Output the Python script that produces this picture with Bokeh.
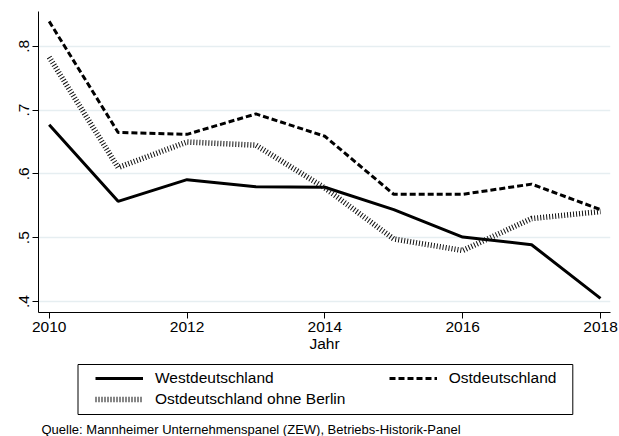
from bokeh.plotting import figure
from bokeh.layouts import column
from bokeh.models import Range1d, FixedTicker, Legend, LegendItem, Label, BoxAnnotation
from bokeh.embed import file_html
from bokeh.resources import INLINE

# ---- data ----
years = [2010, 2011, 2012, 2013, 2014, 2015, 2016, 2017, 2018]
west = [0.677, 0.557, 0.591, 0.580, 0.579, 0.544, 0.501, 0.489, 0.405]
ost = [0.839, 0.665, 0.662, 0.694, 0.659, 0.568, 0.568, 0.584, 0.544]
ohne_berlin = [0.783, 0.610, 0.650, 0.645, 0.578, 0.498, 0.480, 0.530, 0.541]

x_ticks = [2010, 2012, 2014, 2016, 2018]
y_ticks = [0.4, 0.5, 0.6, 0.7, 0.8]
y_tick_labels = [".4", ".5", ".6", ".7", ".8"]

series_labels = ["Westdeutschland", "Ostdeutschland", "Ostdeutschland ohne Berlin"]
x_title = "Jahr"
source_note = "Quelle: Mannheimer Unternehmenspanel (ZEW), Betriebs-Historik-Panel"

FONT = "Liberation Sans"
FS = "15.5px"

W = 619
H1 = 360
H2 = 76

styles = [
    dict(line_color="black", line_width=3),
    dict(line_color="black", line_width=3, line_dash="6 3"),
    dict(line_color="#111111", line_width=5.5, line_dash="1 2"),
]

# ---------------- main chart ----------------
p = figure(width=W, height=H1,
           x_range=Range1d(2009.845, 2018.145),
           y_range=Range1d(0.3828, 0.8545),
           output_backend="svg", toolbar_location=None,
           min_border_left=38, min_border_right=9,
           min_border_top=11, min_border_bottom=H1 - 312)
p.outline_line_color = None
p.background_fill_color = "white"
p.border_fill_color = "white"

p.xgrid.visible = False
p.ygrid.grid_line_color = "#e6eef1"
p.ygrid.grid_line_width = 1.5
p.ygrid.ticker = FixedTicker(ticks=y_ticks)

xa = p.xaxis[0]
xa.ticker = FixedTicker(ticks=x_ticks, minor_ticks=[])
xa.major_tick_out = 6
xa.major_tick_in = 0
xa.minor_tick_out = 0
xa.minor_tick_in = 0
xa.axis_line_color = "black"
xa.major_tick_line_color = "black"
xa.major_label_text_font = FONT
xa.major_label_text_font_size = FS
xa.major_label_text_color = "black"
xa.major_label_standoff = 3
xa.axis_label = x_title
xa.axis_label_text_font = FONT
xa.axis_label_text_font_size = FS
xa.axis_label_text_font_style = "normal"
xa.axis_label_text_color = "black"
xa.axis_label_standoff = 0

ya = p.yaxis[0]
ya.ticker = FixedTicker(ticks=y_ticks, minor_ticks=[])
ya.major_label_overrides = {t: l for t, l in zip(y_ticks, y_tick_labels)}
ya.major_tick_out = 6
ya.major_tick_in = 0
ya.minor_tick_out = 0
ya.minor_tick_in = 0
ya.axis_line_color = "black"
ya.major_tick_line_color = "black"
ya.major_label_text_font = FONT
ya.major_label_text_font_size = FS
ya.major_label_text_color = "black"
ya.major_label_orientation = "vertical"
ya.major_label_standoff = 3

for ys, st in zip([west, ost, ohne_berlin], styles):
    p.line(years, ys, **st)

# ---------------- legend + note panel ----------------
# (its frame is aligned by the column layout with the main frame: x 38..610)
p2 = figure(width=W, height=H2,
            x_range=Range1d(2009.845, 2018.145), y_range=Range1d(10, 11),
            output_backend="svg", toolbar_location=None,
            x_axis_location=None, y_axis_location=None,
            min_border_left=0, min_border_right=0,
            min_border_top=0, min_border_bottom=0)
p2.outline_line_color = None
p2.grid.visible = False
p2.background_fill_color = "white"
p2.border_fill_color = "white"

# same series, outside this panel's visible range: used only as legend keys
leg_r = [p2.line(years, ys, **st) for ys, st in zip([west, ost, ohne_berlin], styles)]

X0 = 38  # frame offset


def make_legend(label, rend, loc):
    return Legend(items=[LegendItem(label=label, renderers=[rend])],
                  location=loc, orientation="vertical",
                  border_line_color=None, background_fill_alpha=0,
                  padding=0, margin=0, spacing=0,
                  glyph_width=48, glyph_height=16, label_height=16,
                  label_standoff=12, label_text_font=FONT,
                  label_text_font_size=FS, label_text_color="black")


p2.add_layout(BoxAnnotation(left=77.5 - X0, right=572.3 - X0, top=72, bottom=22,
                            left_units="screen", right_units="screen",
                            top_units="screen", bottom_units="screen",
                            fill_alpha=0, line_color="black", line_width=1,
                            line_alpha=1))

p2.add_layout(make_legend(series_labels[0], leg_r[0], (95 - X0, 49.5)))
p2.add_layout(make_legend(series_labels[2], leg_r[2], (95 - X0, 28)))
p2.add_layout(make_legend(series_labels[1], leg_r[1], (388.7 - X0, 49.5)))

p2.add_layout(Label(x=41 - X0, y=7, x_units="screen", y_units="screen",
                    text=source_note, text_font=FONT, text_font_size="13px",
                    text_baseline="middle", text_color="black"))

layout = column(p, p2, spacing=0)
open("out.html", "w").write(file_html(layout, INLINE))
